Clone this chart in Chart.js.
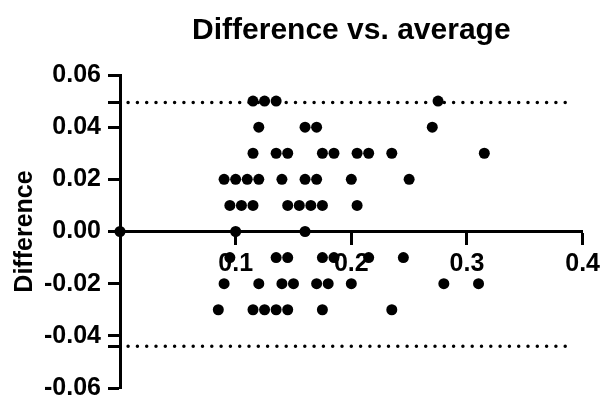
<!DOCTYPE html>
<html>
<head>
<meta charset="utf-8">
<script src="https://cdn.jsdelivr.net/npm/chart.js@4/dist/chart.umd.min.js"></script>
<style>
  html, body { margin: 0; padding: 0; background: #fff; }
  #wrap { width: 606px; height: 397px; }
</style>
</head>
<body>
<div id="wrap"><canvas id="myChart" width="606" height="397"></canvas></div>
<script>
// average (x) and difference (y) of each pair
let average = [
    0.115, 0.125, 0.135, 0.275,
    0.120, 0.160, 0.170, 0.270,
    0.115, 0.135, 0.145, 0.175, 0.185, 0.205, 0.215, 0.235, 0.315,
    0.090, 0.100, 0.110, 0.120, 0.140, 0.160, 0.170, 0.200, 0.250,
    0.095, 0.105, 0.115, 0.145, 0.155, 0.165, 0.175, 0.205,
    0.000, 0.100, 0.160,
    0.095, 0.135, 0.145, 0.175, 0.185, 0.215, 0.245,
    0.090, 0.120, 0.140, 0.150, 0.170, 0.180, 0.200, 0.280, 0.310,
    0.085, 0.115, 0.125, 0.135, 0.145, 0.175, 0.235
];
let difference = [
    0.05, 0.05, 0.05, 0.05,
    0.04, 0.04, 0.04, 0.04,
    0.03, 0.03, 0.03, 0.03, 0.03, 0.03, 0.03, 0.03, 0.03,
    0.02, 0.02, 0.02, 0.02, 0.02, 0.02, 0.02, 0.02, 0.02,
    0.01, 0.01, 0.01, 0.01, 0.01, 0.01, 0.01, 0.01,
    0.00, 0.00, 0.00,
    -0.01, -0.01, -0.01, -0.01, -0.01, -0.01, -0.01,
    -0.02, -0.02, -0.02, -0.02, -0.02, -0.02, -0.02, -0.02, -0.02,
    -0.03, -0.03, -0.03, -0.03, -0.03, -0.03, -0.03
];

// limits of agreement (dotted lines) and their x extent
let limits = [0.0495, -0.044];
let limitRange = [0.007, 0.392];

let yTicks = [-0.06, -0.04, -0.02, 0, 0.02, 0.04, 0.06];
let xTicks = [0.1, 0.2, 0.3, 0.4];

let font = 'Liberation Sans, Arial, sans-serif';
Chart.defaults.color = '#000';
Chart.defaults.font.family = font;

let points = average.map((a, i) => ({ x: a, y: difference[i] }));

let limitSets = limits.map(v => ({
    type: 'line',
    data: limitRange.map(x => ({ x: x, y: v })),
    borderColor: '#000',
    borderWidth: 3.5,
    borderDash: [0, 9.3],
    borderCapStyle: 'round',
    pointRadius: 0,
    fill: false,
    order: 2
}));

let ctx = document.getElementById('myChart').getContext('2d');
let chart = new Chart(ctx, {
    type: 'scatter',
    data: {
        datasets: [{
            data: points,
            backgroundColor: '#000',
            borderWidth: 0,
            pointRadius: 5.5,
            pointHoverRadius: 5.5,
            clip: false,
            order: 1
        }].concat(limitSets)
    },
    options: {
        responsive: false,
        animation: false,
        events: [],
        layout: { padding: { left: 0, right: 22, top: 0, bottom: 9 } },
        plugins: {
            legend: { display: false },
            tooltip: { enabled: false },
            title: {
                display: true,
                text: 'Difference vs. average',
                fullSize: false,
                font: { size: 30, weight: 'bold', family: font },
                padding: { top: 13, bottom: 26 }
            }
        },
        scales: {
            x: {
                type: 'linear',
                position: { y: 0 },
                min: 0,
                max: 0.4,
                afterBuildTicks: s => {
                    s.ticks = xTicks.map(v => ({ value: v }));
                },
                ticks: {
                    padding: 6,
                    font: { size: 25, weight: 'bold', family: font },
                    callback: v => v.toFixed(1)
                },
                grid: {
                    drawOnChartArea: false,
                    drawTicks: true,
                    tickLength: 12,
                    tickWidth: 3,
                    tickColor: '#000'
                },
                border: { display: true, color: '#000', width: 3 }
            },
            y: {
                type: 'linear',
                min: -0.06,
                max: 0.06,
                afterBuildTicks: s => {
                    s.ticks = yTicks.concat(limits).map(v => ({ value: v }));
                },
                afterFit: s => {
                    s.width = 120;
                    s.paddingTop = 0;
                    s.paddingBottom = 0;
                },
                ticks: {
                    padding: 7,
                    font: { size: 25, weight: 'bold', family: font },
                    callback: v => yTicks.includes(v) ? v.toFixed(2) : ''
                },
                grid: {
                    drawOnChartArea: false,
                    drawTicks: true,
                    tickLength: 12,
                    tickWidth: 3,
                    tickColor: '#000'
                },
                border: { display: true, color: '#000', width: 3 },
                title: {
                    display: true,
                    text: 'Difference',
                    font: { size: 25, weight: 'bold', family: font },
                    padding: { top: 10, bottom: 0 }
                }
            }
        }
    }
});
</script>
</body>
</html>
